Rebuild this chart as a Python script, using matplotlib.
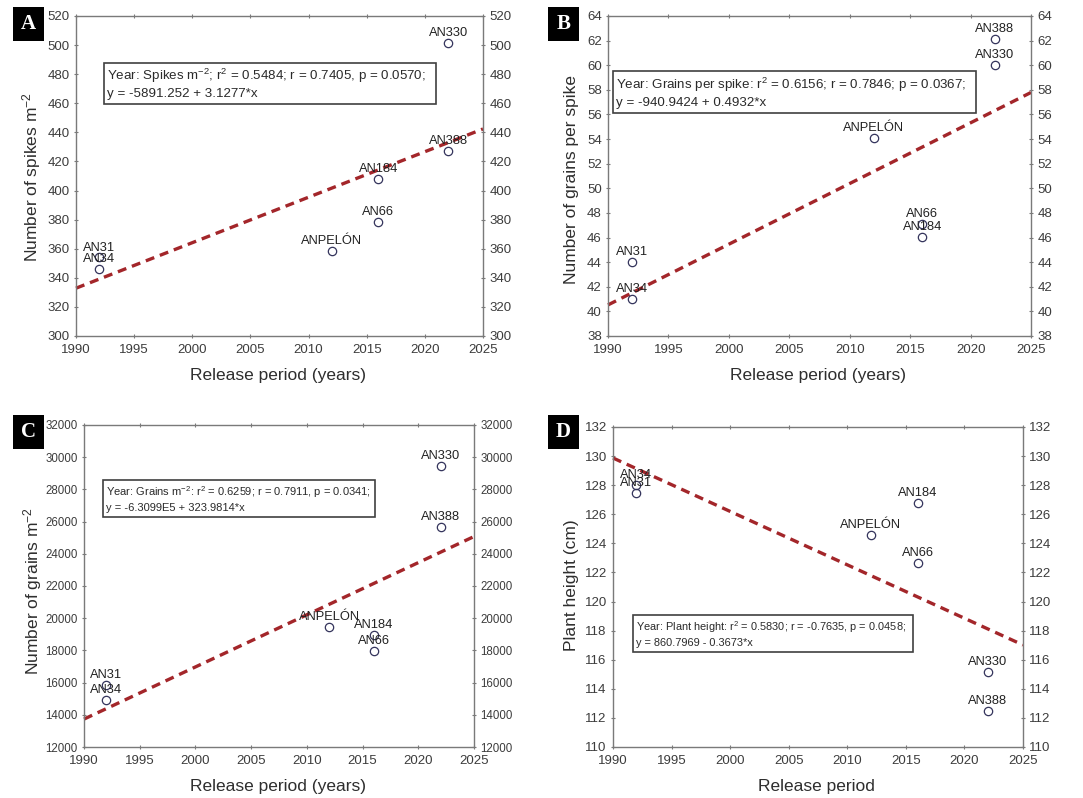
import numpy as np
import matplotlib
matplotlib.use("Agg")
import matplotlib.pyplot as plt
from matplotlib.patches import Rectangle

plt.rcParams['font.family'] = ['Liberation Sans', 'DejaVu Sans']
plt.rcParams['mathtext.fontset'] = 'custom'
plt.rcParams['mathtext.rm'] = 'Liberation Sans'
plt.rcParams['mathtext.it'] = 'Liberation Sans:italic'
plt.rcParams['mathtext.bf'] = 'Liberation Sans:bold'

# ---------------- data ----------------
cultivars = ['AN31', 'AN34', 'ANPELÓN', 'AN66', 'AN184', 'AN330', 'AN388']
years = [1992, 1992, 2012, 2016, 2016, 2022, 2022]
spikes_m2 = [354, 346, 358.4, 378.6, 408, 501.7, 427.2]
grains_spike = [44, 41, 54.06, 47.07, 46.02, 60, 62.1]
grains_m2 = [15870, 14920, 19470, 17960, 18975, 29450, 25690]
plant_height = [127.44, 128.04, 124.58, 122.63, 126.75, 115.16, 112.5]

intercepts = [-5891.252, -940.9424, -6.3099e5, 860.7969]
slopes = [3.1277, 0.4932, 323.9814, -0.3673]

stat_texts = [
    "Year: Spikes m$^{-2}$; r$^2$ = 0.5484; r = 0.7405, p = 0.0570;\ny = -5891.252 + 3.1277*x",
    "Year: Grains per spike: r$^2$ = 0.6156; r = 0.7846; p = 0.0367;\ny = -940.9424 + 0.4932*x",
    "Year: Grains m$^{-2}$: r$^2$ = 0.6259; r = 0.7911, p = 0.0341;\ny = -6.3099E5 + 323.9814*x",
    "Year: Plant height: r$^2$ = 0.5830; r = -0.7635, p = 0.0458;\ny = 860.7969 - 0.3673*x",
]
ylabels = ["Number of spikes m$^{-2}$", "Number of grains per spike",
           "Number of grains m$^{-2}$", "Plant height (cm)"]
xlabels = ["Release period (years)", "Release period (years)",
           "Release period (years)", "Release period"]
panel_letters = ['A', 'B', 'C', 'D']
ylims = [(300, 520), (38, 64), (12000, 32000), (110, 132)]
ysteps = [20, 2, 2000, 2]
xticks = [1990, 1995, 2000, 2005, 2010, 2015, 2020, 2025]

# ---------------- layout ----------------
W, H = 1083, 798
fig = plt.figure(figsize=(W / 100, H / 100), dpi=100)
fig.patch.set_facecolor('white')

def px_rect(l, r, t, b):
    return [l / W, 1 - b / H, (r - l) / W, (b - t) / H]

axes_px = [(76, 483, 16, 336), (608, 1031, 16, 336),
           (84, 474, 425, 747), (613, 1023, 427, 747)]
boxes = [(0.0688, 0.8845, 0.853, 0.725), (0.0118, 0.870, 0.828, 0.697),
         (0.0487, 0.746, 0.829, 0.714), (0.0488, 0.732, 0.4125, 0.297)]
box_fs = [9.6, 9.6, 8.0, 7.9]
ytick_fs = [9.5, 9.5, 8.3, 9.5]
ylabel_x = [-0.108, -0.087, -0.133, -0.102]
ylabel_y = [0.497, 0.49, 0.484, 0.506]
letter_px = [(13, 44, 7, 41), (548, 579, 7, 41), (13, 44, 415, 449), (548, 579, 415, 449)]

series = [spikes_m2, grains_spike, grains_m2, plant_height]

spine_col = '#7a7a7a'
tick_col = '#3c3c3c'
lab_col = '#2e2e2e'

for i in range(4):
    ax = fig.add_axes(px_rect(*axes_px[i]))
    x = np.array(years)
    y = np.array(series[i])
    xs = np.array([1990, 2025])
    ax.plot(xs, intercepts[i] + slopes[i] * xs, color='#a3262a', lw=2.4,
            dashes=(2.7, 1.8), zorder=2, clip_on=False)
    ax.plot(x, y, 'o', ms=6, mfc='none', mec='#34345c', mew=0.9, zorder=3)
    for name, xx, yy in zip(cultivars, x, y):
        ax.annotate(name, (xx, yy), xytext=(0, 5), textcoords='offset points',
                    ha='center', va='baseline', fontsize=9.3, color='#222222', zorder=4)
    ax.set_xlim(1990, 2025)
    ax.set_ylim(*ylims[i])
    ax.set_xticks(xticks)
    ax.set_yticks(np.arange(ylims[i][0], ylims[i][1] + ysteps[i] / 2, ysteps[i]))
    ax.tick_params(axis='both', direction='inout', length=3, width=0.8,
                   color=spine_col, top=True, right=True, labelright=True,
                   labelcolor=tick_col)
    ax.tick_params(axis='x', labelsize=9.5, pad=4.5)
    ax.tick_params(axis='y', labelsize=ytick_fs[i], pad=3)
    for s in ax.spines.values():
        s.set_color(spine_col)
        s.set_linewidth(1.0)
    ax.set_ylabel(ylabels[i], fontsize=12.5, color=lab_col, va='center')
    ax.yaxis.set_label_coords(ylabel_x[i], ylabel_y[i])
    ax.set_xlabel(xlabels[i], fontsize=12.5, color=lab_col, va='center')
    ax.xaxis.set_label_coords(0.497, -0.122)
    # stats box
    x0, x1, yt, yb = boxes[i]
    ax.add_patch(Rectangle((x0, yb), x1 - x0, yt - yb, transform=ax.transAxes,
                           fill=True, facecolor='white', edgecolor='#404040',
                           lw=1.2, zorder=5))
    ax.text(x0 + 0.008, (yt + yb) / 2, stat_texts[i], transform=ax.transAxes,
            ha='left', va='center', fontsize=box_fs[i], color='#2a2a2a',
            linespacing=1.35, zorder=6)
    # panel letter
    l, r, t, b = letter_px[i]
    fig.patches.append(Rectangle((l / W, 1 - b / H), (r - l) / W, (b - t) / H,
                                 transform=fig.transFigure, facecolor='black',
                                 edgecolor='none'))
    fig.text((l + r) / 2 / W, 1 - (t + b) / 2 / H, panel_letters[i],
             ha='center', va='center', fontsize=15, color='white',
             fontweight='bold', family='Liberation Serif')

fig.savefig('out.png', dpi=100)
